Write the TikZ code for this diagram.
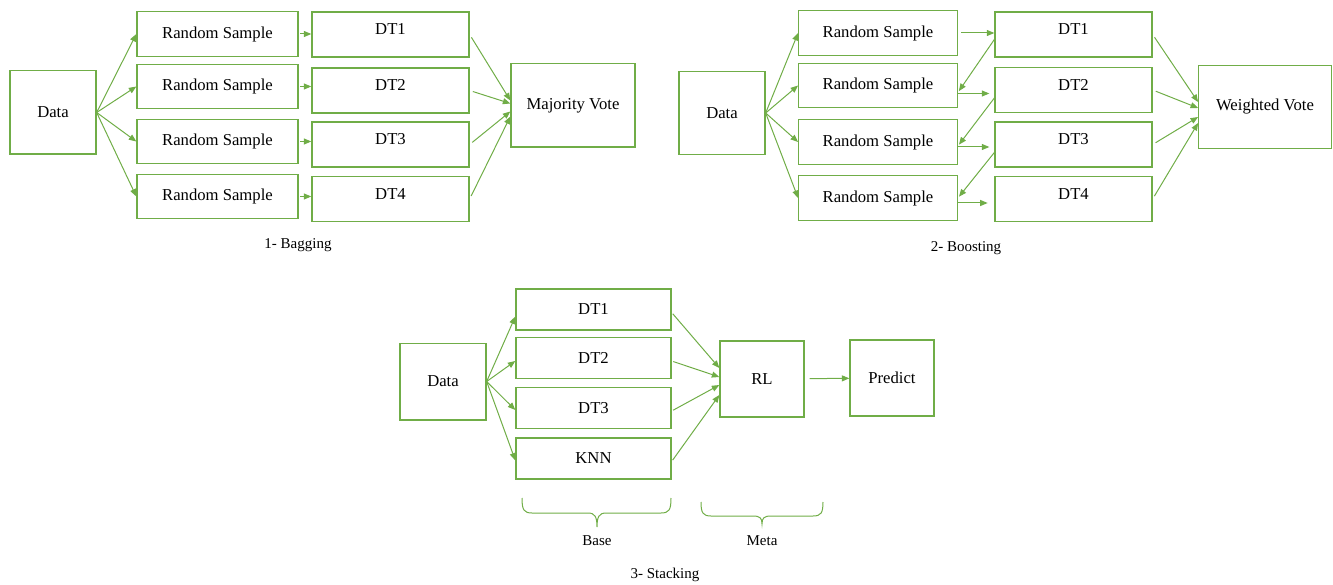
\documentclass[tikz,border=0pt]{standalone}
\usepackage{fontspec}
\setmainfont{Liberation Serif}
\usetikzlibrary{arrows.meta}
\usetikzlibrary{calc}
\definecolor{vert}{HTML}{70AD47}
\tikzset{
	blk/.style = {draw=vert, line width=0.8pt, rectangle, align=center,
		inner sep=0pt, text=black},% boite de base
	blk_data/.style = {blk, minimum width=51.6pt, minimum height=50pt},% donnees
	blk_rs/.style = {blk, minimum width=96.6pt, minimum height=26.7pt},% echantillon
	blk_dt/.style = {blk, minimum width=94.2pt, minimum height=27pt,
		text height=6.6pt, text depth=6pt},% arbre, texte vers le haut
	blk_st/.style = {blk, minimum width=93pt, minimum height=24.6pt},% stacking
	blk_vote/.style = {blk, minimum height=50pt},% vote final
	fleche/.style = {draw=vert, line width=0.6pt},
	legende/.style = {font=\small, inner sep=0pt},
	accolade/.style = {-, draw=vert, line width=0.6pt}% accolade
}

\begin{document}
\begin{tikzpicture}[x=0.6pt, y=-0.6pt, ->, >={Triangle[length=4.5pt,width=3.6pt]}]
	\useasboundingbox (0,0) rectangle (1333,585);

	% 1- Bagging
	\node[blk_data] (g_data) at (53,112.5) {Data};
	\node[blk_rs] (g_rs1) at (217.5,34) {Random Sample};
	\node[blk_rs] (g_rs2) at (217.5,86.5) {Random Sample};
	\node[blk_rs] (g_rs3) at (217.5,141.5) {Random Sample};
	\node[blk_rs] (g_rs4) at (217.5,196.5) {Random Sample};
	\node[blk_dt] (g_dt1) at (390.5,34.5) {DT1};
	\node[blk_dt] (g_dt2) at (390.5,90.5) {DT2};
	\node[blk_dt] (g_dt3) at (390.5,144.5) {DT3};
	\node[blk_dt] (g_dt4) at (390.5,199) {DT4};
	\node[blk_vote, minimum width=74.4pt] (g_vote) at (573,105.5) {Majority Vote};
	\node[legende] (g_titre) at (298,245) {1- Bagging};
	\foreach \i/\dy in {1/-5,2/-2,3/6,4/11}{
		\draw[fleche] (g_data.east) -- (g_rs\i.west);
		\draw[fleche, shorten <=1pt] (g_rs\i.east) -- (g_dt\i.west |- g_rs\i.east);
		\draw[fleche, shorten <=2pt] (g_dt\i.east) -- ($(g_vote.west)+(0,\dy)$);
	}

	% 2- Boosting
	\node[blk_data] (b_data) at (722,113) {Data};
	\node[blk_rs, minimum width=95.1pt] (b_rs1) at (878,33) {Random Sample};
	\node[blk_rs, minimum width=95.1pt] (b_rs2) at (878,85.5) {Random Sample};
	\node[blk_rs, minimum width=95.1pt] (b_rs3) at (878,142) {Random Sample};
	\node[blk_rs, minimum width=95.1pt] (b_rs4) at (878,198) {Random Sample};
	\node[blk_dt] (b_dt1) at (1073.5,34.5) {DT1};
	\node[blk_dt] (b_dt2) at (1073.5,90) {DT2};
	\node[blk_dt] (b_dt3) at (1073.5,144.5) {DT3};
	\node[blk_dt] (b_dt4) at (1073.5,199) {DT4};
	\node[blk_vote, minimum width=79.5pt] (b_vote) at (1265,107) {Weighted Vote};
	\node[legende] (b_titre) at (966,248) {2- Boosting};
	\foreach \i/\dy in {1/-5,2/1,3/10,4/16}{
		\draw[fleche] (b_data.east) -- (b_rs\i.west);
		\draw[fleche, shorten <=2pt] (b_dt\i.east) -- ($(b_vote.west)+(0,\dy)$);
	}
	\draw[fleche, shorten <=2pt] (b_rs1.east) -- (b_dt1.west |- b_rs1.east);
	\draw[fleche, shorten >=3pt] ($(b_rs2.east)+(0,8)$) -- ($(b_dt2.west |- b_rs2.east)+(0,8)$);
	\draw[fleche, shorten >=3pt] ($(b_rs3.east)+(0,5)$) -- ($(b_dt3.west |- b_rs3.east)+(0,5)$);
	\draw[fleche, shorten >=4pt] ($(b_rs4.east)+(0,5)$) -- ($(b_dt4.west |- b_rs4.east)+(0,5)$);
	\draw[fleche, shorten >=1pt] ($(b_dt1.west)+(0,5)$) -- ($(b_rs2.east)+(0,7)$);
	\draw[fleche, shorten >=1pt] ($(b_dt2.west)+(0,8)$) -- ($(b_rs3.east)+(0,4)$);
	\draw[fleche, shorten >=1pt] ($(b_dt3.west)+(0,8)$) -- ($(b_rs4.east)+(0,0)$);

	% 3- Stacking
	\node[blk_data, minimum height=46pt] (s_data) at (443,381.5) {Data};
	\node[blk_st] (s_dt1) at (593.5,309.5) {DT1};
	\node[blk_st] (s_dt2) at (593.5,358) {DT2};
	\node[blk_st] (s_dt3) at (593.5,408) {DT3};
	\node[blk_st] (s_knn) at (593.5,458.5) {KNN};
	\node[blk_data, minimum width=50.4pt, minimum height=45.6pt] (s_rl) at (762,379) {RL};
	\node[blk_data, minimum width=50.4pt, minimum height=45.6pt] (s_pred) at (892,378) {Predict};
	\foreach \n/\dy/\dz in {dt1/7/-11,dt2/3/-2,dt3/2/6,knn/2/16}{
		\draw[fleche] (s_data.east) -- ($(s_\n.west)+(0,\dy)$);
		\draw[fleche, shorten <=1pt] ($(s_\n.east)+(0,3)$) -- ($(s_rl.west)+(0,\dz)$);
	}
	\draw[fleche, shorten <=3pt] (s_rl) -- (s_pred);
	% accolades
	\draw[accolade] (522,498) .. controls (522,510) and (524,513) .. (532,513)
		-- (588,513) .. controls (595,513) and (597,517) .. (597,527)
		.. controls (597,517) and (599,513) .. (606,513)
		-- (661,513) .. controls (669,513) and (671,510) .. (671,498);
	\draw[accolade] (701,502) .. controls (701,513) and (703,516) .. (711,516)
		-- (753,516) .. controls (760,516) and (762,518) .. (762,524)
		.. controls (762,518) and (764,516) .. (771,516)
		-- (813,516) .. controls (821,516) and (823,513) .. (823,502);
	\node[legende] (s_base) at (597,541) {Base};
	\node[legende] (s_meta) at (762,541) {Meta};
	\node[legende] (s_titre) at (665,575) {3- Stacking};
\end{tikzpicture}
\end{document}
